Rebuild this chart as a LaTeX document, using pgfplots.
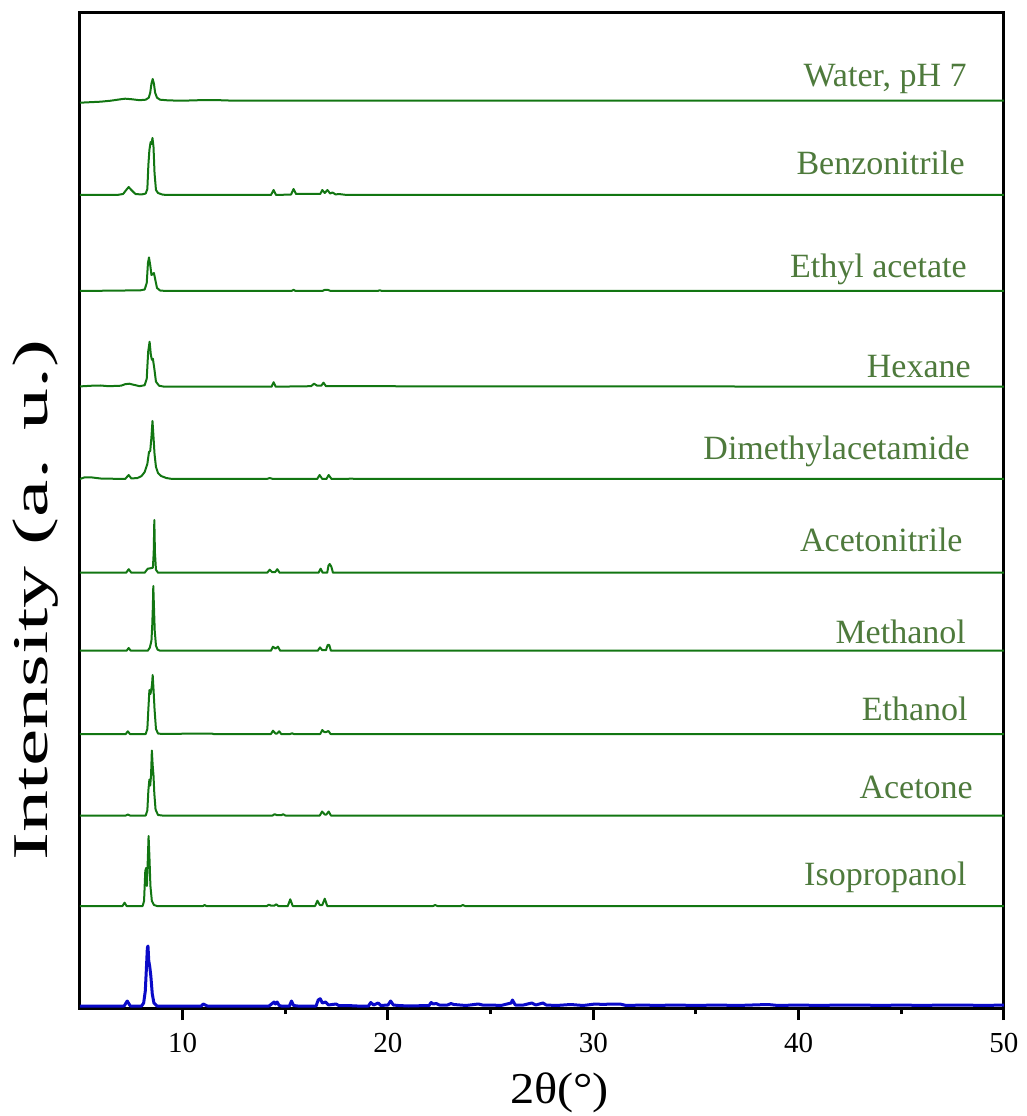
\documentclass[border=0pt]{standalone}
\usepackage{fontspec}
\setmainfont{Liberation Serif}
\usepackage{graphicx}
\usepackage{pgfplots}
\usepackage{pgfplotstable}
\pgfplotsset{compat=1.18}
\definecolor{trgreen}{RGB}{18,118,18}
\definecolor{lblgreen}{RGB}{78,122,60}
\definecolor{trblue}{RGB}{10,10,200}
\tikzset{lbl/.style={anchor=base east, inner sep=0pt, text=lblgreen, font=\fontsize{17}{17}\selectfont}}
\pgfplotsset{tr/.style={color=trgreen, line width=1pt, line join=round, no marks}}

\pgfplotstableread{
t I
5.0 -2.0
5.5 -1.5
6.0 -1.0
6.5 0.0
7.0 1.5
7.2 2.0
7.5 1.5
7.9 0.5
8.2 1.0
8.35 3.0
8.42 8
8.48 17
8.54 21.7
8.6 17
8.66 8
8.75 3
8.9 1.0
9.3 0.3
10 0
10.8 0.5
11.8 0.5
12.5 0
50 0
}\water

\pgfplotstableread{
t I
5.0 0
6.8 0
7.1 1
7.25 5
7.37 8
7.5 5
7.7 1
8.0 0.5
8.2 1.5
8.28 6
8.33 30
8.38 45
8.44 53
8.48 51
8.53 57
8.58 48
8.63 22
8.7 5
8.8 2
9.0 0.5
9.2 0
14.3 0
14.43 5
14.55 0
15.28 0.5
15.4 6
15.52 1
16.0 1
16.7 1
16.8 5
16.92 2
17.05 5
17.18 1.5
17.3 2.5
17.45 0.5
17.6 1
18 0
50 0
}\benzo

\pgfplotstableread{
t I
5 0
7.2 0.5
7.9 0.5
8.15 1.5
8.25 8
8.31 28
8.36 33.5
8.42 26
8.48 16
8.55 17
8.6 18
8.66 12
8.75 3
8.9 0.5
9.2 0
15.3 0
15.4 1.2
15.5 0
16.8 0
16.9 1
17.1 1
17.2 0
19.5 0
19.6 0.8
19.7 0
50 0
}\ethylac

\pgfplotstableread{
t I
5 0.3
5.6 1
6.0 1.2
6.4 0.5
7.0 1
7.2 2.5
7.4 3
7.6 2
7.9 0.5
8.15 1.5
8.25 8
8.32 35
8.39 45
8.45 32
8.5 27
8.55 28
8.62 18
8.7 5
8.85 1
9.1 0
14.33 0
14.43 4.5
14.53 0
16.25 0.5
16.4 3
16.55 1
16.75 1
16.86 4
16.98 0.5
50 0
}\hexane

\pgfplotstableread{
t I
5 0
5.2 1.5
5.6 1.5
6.0 0.5
7.2 0
7.37 4
7.5 0.5
7.8 1
8.0 3
8.15 7
8.28 15
8.36 27
8.42 28
8.48 42
8.53 58
8.58 42
8.63 25
8.7 12
8.8 6
8.95 3
9.2 1
9.5 0
14.1 0
14.24 1
14.4 0
16.55 0
16.67 4
16.8 0
17.0 0
17.11 4
17.25 0
18.0 0
18.2 0.5
18.4 0
50 0
}\dma

\pgfplotstableread{
t I
5 0
7.25 0
7.37 3.5
7.5 0
8.15 0
8.3 4
8.45 4.5
8.55 5
8.59 20
8.62 52.7
8.65 20
8.7 3
8.8 0
14.12 0
14.24 3
14.36 0.5
14.5 0.5
14.61 3.5
14.72 0
16.62 0
16.72 4
16.82 0
17.04 0
17.1 7
17.16 8.7
17.24 6
17.32 0
50 0
}\acetonitrile

\pgfplotstableread{
t I
5 0
7.27 0
7.37 2.7
7.47 0
8.3 0
8.4 3
8.48 10
8.52 26
8.55 45
8.57 64.7
8.6 45
8.64 20
8.7 5
8.78 1
8.9 0
14.3 0
14.4 4
14.52 2
14.64 4
14.75 0
16.58 0
16.69 3.3
16.8 0.5
16.98 0.5
17.06 5.7
17.14 5.7
17.22 0
50 0
}\methanol

\pgfplotstableread{
t I
5 0
7.23 0
7.33 2.7
7.43 0
8.2 0
8.28 5
8.33 25
8.38 44
8.43 40
8.47 44
8.51 50
8.54 59
8.58 45
8.63 25
8.7 5
8.8 0.5
9.0 0
10.9 0.5
11.4 0.5
11.5 0
14.3 0
14.4 3.3
14.52 0.5
14.6 0.5
14.7 2.7
14.8 0
15.25 0
15.33 0.8
15.4 0
16.7 0
16.8 4
16.9 2
17.0 2
17.1 3
17.2 0
50 0
}\ethanol

\pgfplotstableread{
t I
5 0
7.23 0
7.33 1
7.43 0
8.2 0
8.28 5
8.33 25
8.38 36
8.42 30
8.46 40
8.5 65
8.54 50
8.58 40
8.62 22
8.68 6
8.8 0.5
9 0
14.38 0
14.48 1.3
14.6 0.3
14.8 0.3
14.89 1.3
15.0 0
16.68 0
16.79 4
16.92 1
17.0 1
17.11 4
17.22 0
50 0
}\acetone

\pgfplotstableread{
t I
5 0
7.07 0
7.17 3.3
7.27 0
8.05 0
8.12 5
8.18 35
8.22 38
8.26 20
8.3 45
8.34 70
8.38 50
8.43 20
8.5 5
8.6 1
8.75 0
11.0 0
11.07 1
11.15 0
14.1 0
14.2 1.3
14.3 0.3
14.46 0.3
14.56 1.7
14.66 0
15.12 0
15.24 6.7
15.36 0
16.45 0
16.56 5.3
16.68 1
16.8 1
16.92 7.3
17.04 0
22.2 0
22.3 1
22.4 0
23.55 0
23.65 1
23.75 0
50 0
}\isoprop

\pgfplotstableread{
t I
5 0
7.15 0
7.3 5
7.45 0
8.0 0
8.1 3
8.18 15
8.24 40
8.28 58
8.31 60
8.35 45
8.4 39
8.45 30
8.52 12
8.6 3
8.75 0
10.9 0
11.0 2
11.1 1
11.2 0
14.2 0
14.3 1.5
14.45 4
14.52 2
14.6 4
14.7 0.5
14.8 0
15.2 0
15.3 5
15.4 0.5
15.6 0
16.5 0
16.6 6
16.7 7.3
16.8 3
16.96 4
17.1 1
17.47 2
17.6 0.5
18 0.5
18.5 0
19.05 0
19.16 3.5
19.3 1
19.52 3
19.65 0.5
20.0 1
20.13 5
20.26 1
20.5 0.5
21.0 0
22.0 0.5
22.1 3.5
22.2 2
22.35 2.5
22.5 1
22.9 1
23.07 2.5
23.2 1.5
23.5 1
23.8 0.5
24.4 2
24.6 1
25.0 1
25.5 0.5
26.0 3
26.06 6
26.2 1
26.6 1
27.0 3
27.2 1
27.55 3
27.7 1
28.2 0.5
28.9 1.5
29.5 0.5
30.1 2
30.5 1.5
30.8 2
31.3 2
31.6 0.5
32.5 1
33 0.5
34 1
35 0.5
36 1
37 0.5
38.5 1.5
39 0.5
40 1
41 0.5
42 1
43 1
44 0.5
45 1
46 0.5
47 1
48 1
49 0.5
50 1
}\pristine

\begin{document}
\begin{tikzpicture}
\begin{axis}[
  name=main,
  scale only axis,
  width=462pt, height=497.5pt,
  xmin=5, xmax=50, ymin=0, ymax=995,
  axis line style={line width=1.5pt, black},
  ytick=\empty,
  xtick={10,20,30,40,50},
  minor xtick={15,25,35,45},
  xtick pos=bottom,
  tick align=outside,
  major tick length=6pt,
  minor tick length=3pt,
  every tick/.style={black, line width=1.5pt},
  /pgf/number format/assume math mode=true,
  xticklabel style={font=\fontsize{14.5}{14.5}\selectfont, yshift=-3pt},
  xlabel={\fontsize{22}{22}\selectfont\scalebox{1.1}[1]{2θ(°)}},
  ylabel={\fontsize{25}{25}\selectfont\scalebox{1.68}[1]{Intensity (a. u.)}},
  every axis x label/.style={at={(axis description cs:0.519,-0.0854)}, anchor=center},
  every axis y label/.style={at={(axis description cs:-0.0478,0.41)}, rotate=90, anchor=center},
]
\addplot[tr] table[x=t, y expr=\thisrow{I}+907.3] \water;
\addplot[tr] table[x=t, y expr=\thisrow{I}+813] \benzo;
\addplot[tr] table[x=t, y expr=\thisrow{I}+717] \ethylac;
\addplot[tr] table[x=t, y expr=\thisrow{I}+621.3] \hexane;
\addplot[tr] table[x=t, y expr=\thisrow{I}+529] \dma;
\addplot[tr] table[x=t, y expr=\thisrow{I}+435.3] \acetonitrile;
\addplot[tr] table[x=t, y expr=\thisrow{I}+357.3] \methanol;
\addplot[tr] table[x=t, y expr=\thisrow{I}+274] \ethanol;
\addplot[tr] table[x=t, y expr=\thisrow{I}+192.5] \acetone;
\addplot[tr] table[x=t, y expr=\thisrow{I}+102] \isoprop;
\addplot[color=trblue, line width=1.5pt, line join=round, no marks] table[x=t, y expr=\thisrow{I}+2] \pristine;

\node[lbl] at (axis cs:48.2,921.3) {Water, pH 7};
\node[lbl] at (axis cs:48.1,833.7) {Benzonitrile};
\node[lbl] at (axis cs:48.2,730) {Ethyl acetate};
\node[lbl] at (axis cs:48.4,630) {Hexane};
\node[lbl] at (axis cs:48.35,548) {Dimethylacetamide};
\node[lbl] at (axis cs:48.0,456.3) {Acetonitrile};
\node[lbl] at (axis cs:48.16,364.7) {Methanol};
\node[lbl] at (axis cs:48.25,287.3) {Ethanol};
\node[lbl] at (axis cs:48.5,209.7) {Acetone};
\node[lbl] at (axis cs:48.2,123) {Isopropanol};
\end{axis}
\pgfresetboundingbox
\path ([shift={(-40pt,-54pt)}]main.south west) rectangle ([shift={(11.5pt,6.5pt)}]main.north east);
\end{tikzpicture}
\end{document}
